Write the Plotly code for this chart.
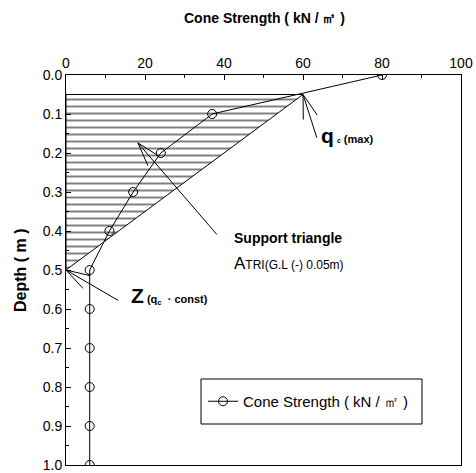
import math
import plotly.graph_objects as go

# ---- data ----
cone_strength = [80, 37, 24, 17, 11, 6, 6, 6, 6, 6, 6]
depth = [0.0, 0.1, 0.2, 0.3, 0.4, 0.5, 0.6, 0.7, 0.8, 0.9, 1.0]
tri_x = [0, 60, 0, 0]
tri_y = [0.05, 0.05, 0.5, 0.05]
x_ticks = [0, 20, 40, 60, 80, 100]
y_ticks = [0.0, 0.1, 0.2, 0.3, 0.4, 0.5, 0.6, 0.7, 0.8, 0.9, 1.0]
y_tick_labels = ["%.1f" % v for v in y_ticks]
series_name = "Cone Strength ( kN / ㎡ )"

# arrows: (tip_x, tip_y, tail_x, tail_y) in data units
arrow_qc = (60, 0.05, 63.5, 0.161)
arrow_tri = (18.2, 0.174, 38.2, 0.409)
arrow_z = (0, 0.5, 13.2, 0.578)

W, H = 476, 473
ML, MR, MT, MB = 66, 15, 75, 8
PW, PH = W - ML - MR, H - MT - MB
XR, YR = 100.0, 1.0

FONT = "Liberation Sans Narrow, Arial Narrow, Liberation Sans, Arial"

fig = go.Figure()

fig.add_trace(go.Scatter(
    x=tri_x, y=tri_y, mode="lines", fill="toself",
    fillcolor="white",
    fillpattern=dict(shape="-", size=7, solidity=0.28, fgcolor="black", bgcolor="white"),
    line=dict(color="black", width=1), showlegend=False, hoverinfo="skip"))

fig.add_trace(go.Scatter(
    x=cone_strength, y=depth, mode="lines+markers", name=series_name,
    line=dict(color="black", width=1),
    marker=dict(symbol="circle-open", size=9, color="black", line=dict(width=1))))

def arrow_shapes(a, head_len=25, half_angle=17):
    tx, ty, sx, sy = a
    shapes = [dict(type="line", x0=tx, y0=ty, x1=sx, y1=sy,
                   line=dict(color="black", width=1))]
    dxp = (sx - tx) / XR * PW
    dyp = (sy - ty) / YR * PH
    ang = math.atan2(dyp, dxp)
    for s in (-1, 1):
        a2 = ang + s * math.radians(half_angle)
        ex = tx + head_len * math.cos(a2) / PW * XR
        ey = ty + head_len * math.sin(a2) / PH * YR
        shapes.append(dict(type="line", x0=tx, y0=ty, x1=ex, y1=ey,
                           line=dict(color="black", width=1)))
    return shapes

shapes = []
for a in (arrow_qc, arrow_tri, arrow_z):
    shapes += arrow_shapes(a)

# legend frame
shapes.append(dict(type="rect", xref="paper", yref="paper",
                   x0=(201 - ML) / PW, x1=(422 - ML) / PW,
                   y0=(H - MB - 424) / PH, y1=(H - MB - 379) / PH,
                   line=dict(color="black", width=1), fillcolor="white", layer="above"))

annotations = [
    dict(text="<b>Cone Strength ( kN / ㎡ )</b>", xref="paper", yref="paper",
         x=(264 - ML) / PW, y=1.0 + 57 / PH, showarrow=False, xanchor="center", yanchor="middle",
         font=dict(family=FONT, size=14, color="black")),
    dict(text="<b>Depth ( m )</b>", xref="paper", yref="paper",
         x=-46 / PW, y=0.5, showarrow=False, textangle=-90,
         xanchor="center", yanchor="middle",
         font=dict(family="Liberation Sans, Arial", size=16, color="black")),
    dict(text="<b><span style='font-size:21px'>q</span> <span style='font-size:7px'>c</span> (max)</b>",
         x=arrow_qc[2] + 0.5, y=arrow_qc[3] - 0.005, xanchor="left", yanchor="middle",
         showarrow=False, font=dict(family=FONT, size=11, color="black")),
    dict(text="<b>Support triangle</b>", x=42, y=0.418, xanchor="left", yanchor="middle",
         showarrow=False, font=dict(family=FONT, size=14, color="black")),
    dict(text="<span style='font-size:17px'>A</span>TRI(G.L (-) 0.05m)", x=42, y=0.484,
         xanchor="left", yanchor="middle",
         showarrow=False, font=dict(family=FONT, size=12, color="black")),
    dict(text="<b><span style='font-size:21px'>Z</span> (q<sub>c</sub>  · const)</b>",
         x=16, y=0.566, xanchor="left", yanchor="middle",
         showarrow=False, font=dict(family=FONT, size=11, color="black")),
]

fig.update_layout(
    width=W, height=H, margin=dict(l=ML, r=MR, t=MT, b=MB),
    paper_bgcolor="white", plot_bgcolor="white",
    shapes=shapes, annotations=annotations,
    legend=dict(x=(203 - ML) / PW, y=(H - MB - 401.5) / PH, xanchor="left", yanchor="middle",
                borderwidth=0, bgcolor="rgba(0,0,0,0)",
                font=dict(family=FONT, size=15, color="black")),
    font=dict(family=FONT, size=14, color="black"),
)

fig.update_xaxes(
    side="top", range=[0, 100], tickvals=x_ticks, ticks="inside", ticklen=5,
    tickcolor="black", showline=True, linecolor="black", linewidth=1, mirror=True,
    showgrid=False, zeroline=False, tickfont=dict(family=FONT, size=14), automargin=False,
    ticklabeloverflow="allow",
    minor=dict(dtick=10, ticks="inside", ticklen=3, tickcolor="black", showgrid=False))

fig.update_yaxes(
    range=[1.0, 0.0], tickvals=y_ticks, ticktext=y_tick_labels, ticks="inside", ticklen=5,
    tickcolor="black", showline=True, linecolor="black", linewidth=1, mirror=True,
    showgrid=False, zeroline=False, tickfont=dict(family=FONT, size=14), automargin=False,
    ticklabeloverflow="allow",
    minor=dict(dtick=0.05, ticks="inside", ticklen=3, tickcolor="black", showgrid=False))

fig.write_html("out.html")
